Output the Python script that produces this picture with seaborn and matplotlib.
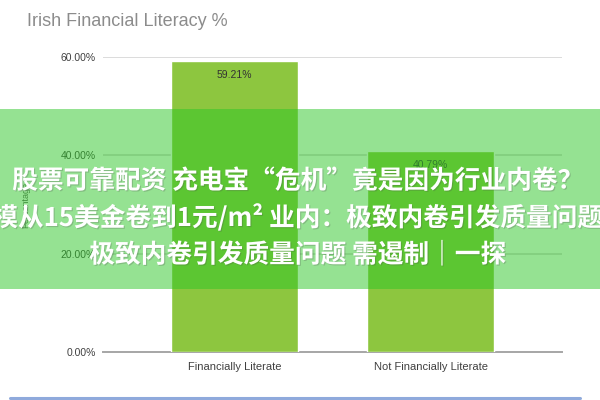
import matplotlib
matplotlib.use("Agg")
import matplotlib.pyplot as plt
import matplotlib.patheffects as pe
from matplotlib.patches import Rectangle
from matplotlib.lines import Line2D
import seaborn as sns
import pandas as pd

# data
categories = ["Financially Literate", "Not Financially Literate"]
values = [59.21, 40.79]
y_ticks = [0, 20, 40, 60]

headline_lines = [
    "股票可靠配资 充电宝“危机”竟是因为行业内卷？",
    "模从15美金卷到1元/m² 业内：极致内卷引发质量问题",
    "极致内卷引发质量问题 需遏制｜一探",
]

sns.set_style("white")
plt.rcParams["font.family"] = ["Liberation Sans", "DejaVu Sans"]

df = pd.DataFrame({"category": categories, "value": values})

fig = plt.figure(figsize=(6, 4), dpi=100)
ax = fig.add_axes([0.1717, 0.12, 0.765, 0.7375])

sns.barplot(data=df, x="category", y="value", color="#8DC63F",
            width=0.65, saturation=1, ax=ax, zorder=3)

ax.set_xlim(-0.67, 1.67)
ax.set_ylim(0, 60)
ax.set_yticks(y_ticks)
ax.set_yticklabels([f"{t:.2f}%" for t in y_ticks], fontsize=7.5, color="#404040")
ax.tick_params(axis="x", labelsize=8, colors="#404040", length=0, pad=7)
ax.tick_params(axis="y", length=0, pad=5)
ax.set_xlabel("")
ax.set_ylabel("Percentage", fontsize=6.5, color="#595959", labelpad=22)

for t in y_ticks[1:]:
    ax.axhline(t, color="#D9D9D9", lw=1.3, zorder=1)
sns.despine(ax=ax, left=True, top=True, right=True)
ax.spines["bottom"].set_color("#A6A6A6")
ax.spines["bottom"].set_linewidth(1.4)

for i, v in enumerate(values):
    ax.annotate(f"{v:.2f}%", (i, v), xytext=(0, -10), textcoords="offset points",
                ha="center", va="center", fontsize=7.5, color="#333333", zorder=4)

fig.text(0.045, 0.945, "Irish Financial Literacy %", fontsize=13,
         color="#8C8C8C", ha="left", va="center")

# bottom blue rule
fig.add_artist(Line2D([0.017, 0.967], [0.006, 0.006], color="#8FAADC", lw=2.2))

# translucent green banner with headline
fig.add_artist(Rectangle((0, 0.2775), 1, 0.45, transform=fig.transFigure,
                         color=(45 / 255, 198 / 255, 38 / 255), alpha=0.5,
                         lw=0, zorder=10))

for y, line in zip([0.5475, 0.455, 0.3625], headline_lines):
    fig.text(0.497, y, line, fontsize=18.5, fontweight="bold", color="white",
             family=["Noto Sans CJK SC", "DejaVu Sans"], ha="center", va="center",
             zorder=11,
             path_effects=[pe.SimplePatchShadow(offset=(0.8, -0.8), alpha=0.25),
                           pe.Normal()])

fig.savefig("out.png", dpi=100)
